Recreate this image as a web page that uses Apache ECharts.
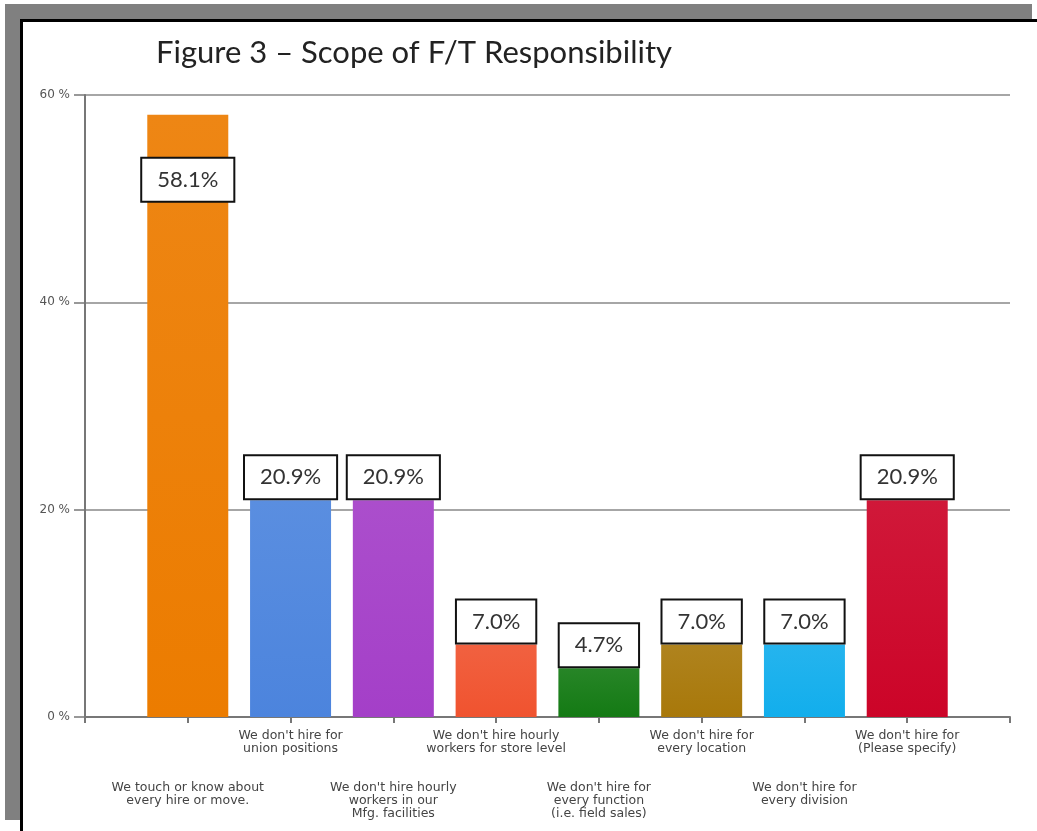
<!DOCTYPE html>
<html>
<head>
<meta charset="utf-8">
<script src="https://cdn.jsdelivr.net/npm/echarts@6/dist/echarts.min.js"></script>
<style>
html,body{margin:0;padding:0;background:#fff;}
#chart{width:1037px;height:831px;}
</style>
</head>
<body>
<div id="chart"></div>
<script>
// ---- data ----
var categories = [
  'We touch or know about\nevery hire or move.',
  'We don\'t hire for\nunion positions',
  'We don\'t hire hourly\nworkers in our\nMfg. facilities',
  'We don\'t hire hourly\nworkers for store level',
  'We don\'t hire for\nevery function\n(i.e. field sales)',
  'We don\'t hire for\nevery location',
  'We don\'t hire for\nevery division',
  'We don\'t hire for\n(Please specify)'
];
var values = [58.1, 20.9, 20.9, 7.0, 4.7, 7.0, 7.0, 20.9];
var barColors = ['#EC7C00', '#4C84DD', '#A43FC8', '#F0532F', '#147A14', '#A8780A', '#12AEEC', '#CC0428'];
var yTicks = [0, 20, 40, 60];

// ---- build ----
var axisCats = [''].concat(categories).concat(['']);
function lighten(hex, f){
  var r=parseInt(hex.substr(1,2),16),g=parseInt(hex.substr(3,2),16),b=parseInt(hex.substr(5,2),16);
  r=Math.round(r+(255-r)*f);g=Math.round(g+(255-g)*f);b=Math.round(b+(255-b)*f);
  return 'rgb('+r+','+g+','+b+')';
}
var seriesData = ['-'];
values.forEach(function(v,i){
  var item = {
    value: v,
    itemStyle: {
      color: new echarts.graphic.LinearGradient(0,0,0,1,[
        {offset:0,color:lighten(barColors[i],0.08)},
        {offset:1,color:barColors[i]}
      ])
    }
  };
  if (i === 0) {
    item.label = {position:'insideTop', distance:44};
  }
  seriesData.push(item);
});
seriesData.push('-');

var chart = echarts.init(document.getElementById('chart'));
chart.setOption({
  backgroundColor:'#ffffff',
  animation:false,
  title:{
    text:'Figure 3 \u2013 Scope of F/T Responsibility',
    left:151, top:32,
    textStyle:{fontFamily:'Lato', fontSize:31, fontWeight:'normal', color:'#222'}
  },
  graphic:[
    {type:'rect', shape:{x:5,y:4,width:1027,height:15}, style:{fill:'#808080'}},
    {type:'rect', shape:{x:5,y:4,width:15,height:816}, style:{fill:'#808080'}},
    {type:'rect', shape:{x:20,y:19,width:1017,height:3}, style:{fill:'#000'}},
    {type:'rect', shape:{x:20,y:19,width:3,height:812}, style:{fill:'#000'}}
  ],
  grid:{left:85, right:27, top:95, bottom:114},
  xAxis:{
    type:'category',
    data:axisCats,
    boundaryGap:false,
    axisLine:{lineStyle:{color:'#777', width:2}},
    axisTick:{show:true, length:6, interval:0, lineStyle:{color:'#777', width:2}},
    axisLabel:{
      interval:0, margin:12,
      fontFamily:'DejaVu Sans', fontSize:12.5, lineHeight:13, color:'#444',
      formatter:function(v, idx){
        if (!v) return '';
        return (idx % 2 === 1) ? '\n\n\n\n' + v : v;
      }
    },
    splitLine:{show:false}
  },
  yAxis:{
    type:'value', min:0, max:60, interval:20,
    axisLine:{show:true, lineStyle:{color:'#777', width:2}},
    axisTick:{show:true, length:11, lineStyle:{color:'#777', width:1.5}},
    axisLabel:{
      margin:15, fontFamily:'DejaVu Sans', fontSize:12, color:'#555',
      formatter:function(v){ return yTicks.indexOf(v) >= 0 ? v + ' %' : ''; }
    },
    splitLine:{show:true, lineStyle:{color:'#888', width:1.5}}
  },
  series:[{
    type:'bar',
    data:seriesData,
    barWidth:81,
    label:{
      show:true, position:'top', distance:2,
      formatter:function(p){ return p.value.toFixed(1) + '%'; },
      fontFamily:'Lato', fontSize:22, lineHeight:22, color:'#333',
      backgroundColor:'#fff', borderColor:'#111', borderWidth:2,
      padding:[10,15,10,15]
    }
  }]
});
</script>
</body>
</html>
